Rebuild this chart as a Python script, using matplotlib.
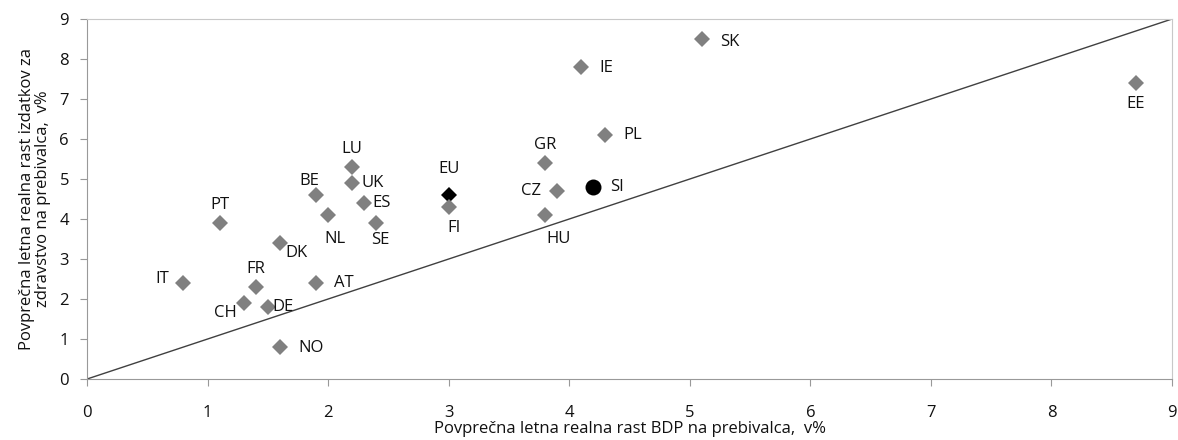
import matplotlib
matplotlib.use("Agg")
import matplotlib.pyplot as plt

plt.rcParams['font.family'] = ['Open Sans', 'DejaVu Sans']

countries = ["IT", "PT", "CH", "FR", "DE", "DK", "NO", "BE", "AT", "NL", "LU", "UK",
             "ES", "SE", "FI", "GR", "HU", "CZ", "PL", "IE", "SK", "EE"]
gdp_growth = [0.8, 1.1, 1.3, 1.4, 1.5, 1.6, 1.6, 1.9, 1.9, 2.0, 2.2, 2.2,
              2.3, 2.4, 3.0, 3.8, 3.8, 3.9, 4.3, 4.1, 5.1, 8.7]
health_growth = [2.4, 3.9, 1.9, 2.3, 1.8, 3.4, 0.8, 4.6, 2.4, 4.1, 5.3, 4.9,
                 4.4, 3.9, 4.3, 5.4, 4.1, 4.7, 6.1, 7.8, 8.5, 7.4]
eu_point = (3.0, 4.6)
si_point = (4.2, 4.8)
ref_line_x = [0, 9]

FS = 12

# label offsets in points (dx, dy, ha)
offsets = {
    "IT": (-10, 3, "right"), "PT": (0, 13, "center"), "CH": (-5, -7, "right"),
    "FR": (0, 13, "center"), "DE": (3, 0, "left"), "DK": (4, -7, "left"),
    "NO": (13, -1, "left"), "BE": (-5, 10, "center"), "AT": (13, 0, "left"),
    "NL": (5, -17, "center"), "LU": (0, 13, "center"), "UK": (7, 0, "left"),
    "ES": (6, 0, "left"), "SE": (3, -12, "center"), "FI": (4, -15, "center"),
    "GR": (0, 13, "center"), "HU": (10, -17, "center"), "CZ": (-12, 0, "right"),
    "PL": (13, 0, "left"), "IE": (13, -1, "left"), "SK": (13, -2, "left"),
    "EE": (0, -15, "center"),
}

fig = plt.figure(figsize=(11.78, 4.40), dpi=100)
ax = fig.add_axes([0.0739, 0.1386, 0.9949 - 0.0739, 0.9568 - 0.1386])

ax.plot(ref_line_x, ref_line_x, color="#404040", lw=1.0, zorder=1)
ax.plot(gdp_growth, health_growth, linestyle="none", marker="D", markersize=8,
        color="#808080", markeredgewidth=0, zorder=3)
ax.plot([eu_point[0]], [eu_point[1]], linestyle="none", marker="D", markersize=8,
        color="black", markeredgewidth=0, zorder=2)
ax.plot([si_point[0]], [si_point[1]], linestyle="none", marker="o", markersize=11.5,
        color="black", markeredgewidth=0, zorder=3)

for c, x, y in zip(countries, gdp_growth, health_growth):
    dx, dy, ha = offsets[c]
    ax.annotate(c, (x, y), xytext=(dx, dy), textcoords="offset points",
                ha=ha, va="center", fontsize=FS, color="#111111")
ax.annotate("EU", eu_point, xytext=(0, 19), textcoords="offset points",
            ha="center", va="center", fontsize=FS, color="#111111")
ax.annotate("SI", si_point, xytext=(12, 0), textcoords="offset points",
            ha="left", va="center", fontsize=FS, color="#111111")

ax.set_xlim(0, 9)
ax.set_ylim(0, 9)
ax.set_xticks(range(0, 10))
ax.set_yticks(range(0, 10))
ax.tick_params(axis="both", direction="out", length=5, color="#999999",
               labelsize=FS, labelcolor="#111111")
ax.tick_params(axis="x", pad=14)
ax.tick_params(axis="y", pad=8)
for s in ["left", "bottom"]:
    ax.spines[s].set_color("#999999")
for s in ["top", "right"]:
    ax.spines[s].set_color("#c8c8c8")

ax.set_xlabel("Povprečna letna realna rast BDP na prebivalca,  v%", fontsize=FS,
              color="#111111", labelpad=0)
ax.set_ylabel("Povprečna letna realna rast izdatkov za\nzdravstvo na prebivalca,  v%",
              fontsize=FS, color="#111111", labelpad=6, linespacing=1.0)

fig.savefig("out.png", dpi=100)
